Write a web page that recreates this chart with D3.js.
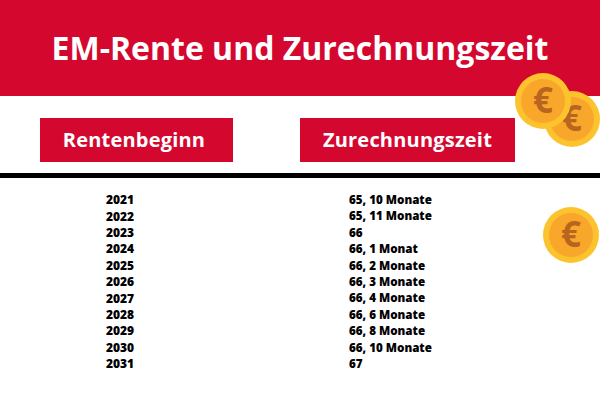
<!DOCTYPE html>
<html>
<head>
<meta charset="utf-8">
<script src="https://cdn.jsdelivr.net/npm/d3@7"></script>
<style>
html, body { margin: 0; padding: 0; background: #fff; }
svg { display: block; }
text { font-family: "Open Sans", sans-serif; }
</style>
</head>
<body>
<svg id="chart" width="600" height="400"></svg>
<script>
const title = 'EM-Rente und Zurechnungszeit'
const headers = ['Rentenbeginn', 'Zurechnungszeit']
const years = ['2021', '2022', '2023', '2024', '2025', '2026', '2027', '2028', '2029', '2030', '2031']
const zeiten = ['65, 10 Monate', '65, 11 Monate', '66', '66, 1 Monat', '66, 2 Monate', '66, 3 Monate', '66, 4 Monate', '66, 6 Monate', '66, 8 Monate', '66, 10 Monate', '67']

const red = '#d4082f'
let svg = d3.select('#chart')

// rows
let y = d3.scalePoint().domain(years).range([200, 364])

// top banner
svg.append('rect').attr('x', 0).attr('y', 0).attr('width', 600).attr('height', 96).attr('fill', red)
svg.append('text')
	.attr('x', 300).attr('y', 60)
	.attr('text-anchor', 'middle')
	.attr('font-size', 32).attr('font-weight', 700)
	.attr('fill', '#fff')
	.text(title)

// column headers
let header_boxes = [{x: 40, w: 193}, {x: 300, w: 215}]
headers.forEach((h, i) => {
	let b = header_boxes[i]
	svg.append('rect').attr('x', b.x).attr('y', 118).attr('width', b.w).attr('height', 44).attr('fill', red)
	svg.append('text')
		.attr('x', b.x + b.w / 2 - 2.5 + i * 2.5).attr('y', 147)
		.attr('text-anchor', 'middle')
		.attr('font-size', 20).attr('font-weight', 700)
		.attr('letter-spacing', 0.2)
		.attr('fill', '#fff')
		.text(h)
})

// divider
svg.append('rect').attr('x', 0).attr('y', 173).attr('width', 600).attr('height', 5).attr('fill', '#000')

// table rows
svg.append('g').selectAll('text')
	.data(years)
	.join('text')
	.attr('x', 106)
	.attr('y', d => y(d))
	.attr('dy', '0.35em')
	.attr('font-size', 12).attr('font-weight', 800)
	.attr('fill', '#000')
	.text(d => d)

svg.append('g').selectAll('text')
	.data(zeiten)
	.join('text')
	.attr('x', 349)
	.attr('y', (d, i) => y(years[i]))
	.attr('dy', '0.35em')
	.attr('font-size', 11.6).attr('font-weight', 800)
	.attr('fill', '#000')
	.text(d => d)

// coins, back one first
function coin(cx, cy) {
	let g = svg.append('g').attr('transform', `translate(${cx},${cy})`)
	g.append('circle').attr('r', 28).attr('fill', '#fcc32c')
	g.append('circle').attr('r', 22.5).attr('fill', '#f9a72b').attr('stroke', '#fdc236').attr('stroke-width', 1)
	g.append('text')
		.attr('text-anchor', 'middle')
		.attr('y', 12)
		.attr('font-size', 35).attr('font-weight', 700)
		.attr('fill', '#b8651f')
		.text('€')
}
coin(572, 119)
coin(543, 101)
coin(571, 235)
</script>
</body>
</html>
